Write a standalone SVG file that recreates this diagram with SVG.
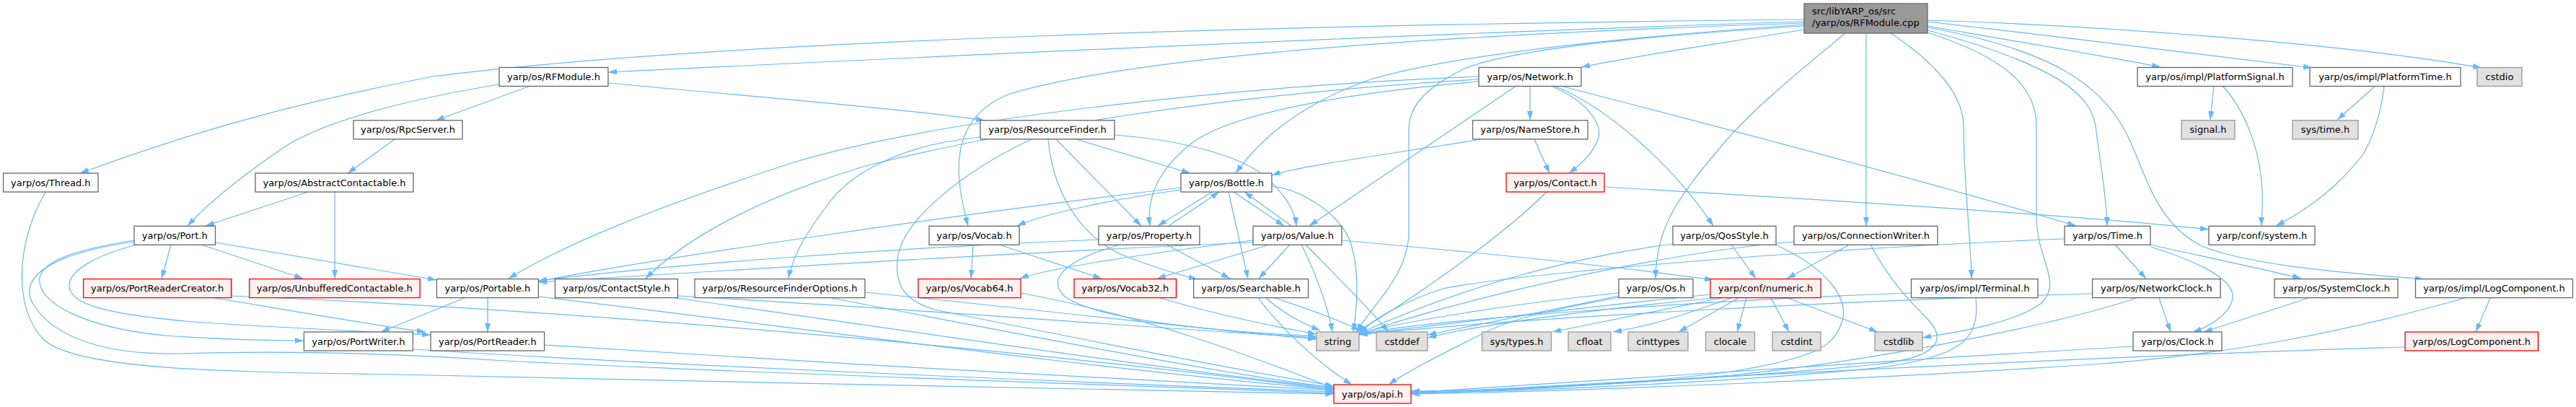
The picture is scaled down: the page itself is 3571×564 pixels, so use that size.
<svg xmlns="http://www.w3.org/2000/svg" width="3571" height="564" viewBox="0 0 3571 564">
<defs>
<marker id="ah" viewBox="0 0 12 8" refX="12" refY="4" markerWidth="12" markerHeight="8" markerUnits="userSpaceOnUse" orient="auto">
<path d="M0,0 L12,4 L0,8 z" fill="#63b8ff"/>
</marker>
<style>
.e path{fill:none;stroke:#63b8ff;stroke-width:1.2;marker-end:url(#ah)}
text{font-family:"DejaVu Sans",Verdana,sans-serif;font-size:13px;fill:#000}
.n text{text-anchor:middle}
.w rect{fill:#ffffff;stroke:#666666;stroke-width:1.3}
.r rect{fill:#fff0f0;stroke:#ff0000;stroke-width:1.3}
.g rect{fill:#e0e0e0;stroke:#999999;stroke-width:1.3}
.root rect{fill:#999999;stroke:#666666;stroke-width:1.3}
</style>
</defs>
<rect width="3571" height="564" fill="#ffffff"/>
<g id="edges" class="e">
<path d="M2501,27 C1800,34 1000,55 600,106 C450,135 300,170 111,240"/>
<path d="M2501,30 C2000,45 1300,78 843,100"/>
<path d="M2501,32 C2100,45 1600,70 1400,130 C1310,165 1325,250 1342,313"/>
<path d="M2501,34 C2200,55 2000,80 1900,110 C1800,145 1745,195 1713,240"/>
<path d="M2501,36 C2200,55 2080,75 2030,95 C1970,125 1953,150 1953,180 L1953,320 C1953,380 1905,420 1880,460"/>
<path d="M2501,41 C2400,58 2280,75 2192,93"/>
<path d="M2558,46 C2480,110 2420,160 2380,210 C2320,280 2296,320 2295,386"/>
<path d="M2587,46 L2587,313"/>
<path d="M2621,46 C2680,85 2722,130 2722,175 C2722,250 2732,330 2733,386"/>
<path d="M2672,45 C2780,80 2823,120 2823,175 L2823,300 C2823,360 2860,390 2830,420 C2790,450 2700,462 2665,468"/>
<path d="M2672,42 C2850,90 2898,130 2905,175 C2912,230 2920,270 2921,313"/>
<path d="M2672,38 C2850,70 2920,120 2955,200 C2980,260 2995,310 3050,340 C3120,370 3280,380 3360,387"/>
<path d="M2672,36 C2800,58 2930,80 2995,93"/>
<path d="M2672,30 C2850,50 3050,75 3205,94"/>
<path d="M2672,28 C2900,35 3250,60 3440,94"/>
<path d="M735,119 L604,167"/>
<path d="M843,115 C1000,130 1250,150 1365,167"/>
<path d="M692,117 C550,140 450,170 400,200 C340,240 290,280 260,313"/>
<path d="M547,193 L482,240"/>
<path d="M427,266 L285,313"/>
<path d="M464,266 L464,386"/>
<path d="M237,339 L224,386"/>
<path d="M279,339 L420,386"/>
<path d="M299,336 L605,388"/>
<path d="M186,333 C110,345 60,360 55,385 C50,420 120,455 230,465 C300,470 380,472 421,472"/>
<path d="M189,339 C130,355 96,375 96,396 C96,420 140,435 268,446 C400,455 520,460 597,464"/>
<path d="M186,335 C80,350 25,380 45,420 C75,470 150,492 250,490 C400,485 550,490 700,500 C1100,520 1600,535 1849,545"/>
<path d="M63,266 C20,340 20,430 60,470 C110,520 400,515 600,520 C1000,530 1600,540 1849,546"/>
<path d="M293,412 C400,430 500,448 590,460"/>
<path d="M320,410 C700,425 1300,470 1849,540"/>
<path d="M646,412 L528,460"/>
<path d="M676,412 L676,460"/>
<path d="M746,411 C1000,440 1500,510 1849,540"/>
<path d="M572,484 C900,505 1500,530 1849,543"/>
<path d="M755,478 C1100,500 1600,530 1849,541"/>
<path d="M939,410 C1300,430 1600,455 1825,468"/>
<path d="M931,412 C1200,450 1600,510 1849,538"/>
<path d="M1199,405 C1450,430 1650,455 1825,470"/>
<path d="M1147,412 C1400,460 1700,520 1849,537"/>
<path d="M1359,190 C1250,200 1180,240 1150,280 C1120,320 1100,350 1093,386"/>
<path d="M1492,193 L1650,240"/>
<path d="M1464,193 L1582,313"/>
<path d="M1453,193 C1460,270 1500,330 1560,355 C1600,370 1630,380 1660,387"/>
<path d="M1545,187 C1650,195 1730,220 1760,250 C1780,270 1795,290 1797,313"/>
<path d="M1430,193 C1350,230 1250,300 1244,360 C1240,400 1260,420 1300,430 C1500,470 1700,510 1849,535"/>
<path d="M1637,263 C1550,275 1450,295 1410,313"/>
<path d="M1637,260 C1300,300 900,360 746,390"/>
<path d="M1680,266 L1605,313"/>
<path d="M1620,313 L1690,266"/>
<path d="M1710,266 L1780,313"/>
<path d="M1790,313 L1725,266"/>
<path d="M1703,266 L1730,386"/>
<path d="M1763,258 C1800,262 1850,290 1870,330 C1885,370 1882,420 1876,460"/>
<path d="M1349,339 L1346,386"/>
<path d="M1385,339 L1527,386"/>
<path d="M1617,339 L1705,386"/>
<path d="M1523,332 C1200,345 900,370 746,389"/>
<path d="M1552,339 C1480,360 1450,385 1475,410 C1520,445 1700,460 1825,466"/>
<path d="M1788,339 L1745,386"/>
<path d="M1737,333 C1600,350 1450,372 1414,386"/>
<path d="M1760,339 L1604,386"/>
<path d="M1737,336 C1400,350 1000,375 746,391"/>
<path d="M1804,339 C1820,370 1840,420 1847,460"/>
<path d="M1810,339 C1850,380 1900,430 1925,460"/>
<path d="M1860,333 C2050,350 2250,370 2375,388"/>
<path d="M1744,413 C1780,460 1830,505 1874,533"/>
<path d="M1755,413 C1780,435 1810,450 1830,458"/>
<path d="M1767,413 C1820,430 1860,445 1885,458"/>
<path d="M2127,193 L2148,240"/>
<path d="M2053,193 C1950,210 1800,230 1763,243"/>
<path d="M2144,266 C2080,330 1950,420 1880,460"/>
<path d="M2224,259 C2500,275 2900,300 3062,318"/>
<path d="M2121,119 L2121,166"/>
<path d="M2150,119 C2200,140 2220,170 2216,190 C2210,210 2195,225 2175,240"/>
<path d="M2102,119 L1815,313"/>
<path d="M2155,119 C2230,150 2320,230 2375,313"/>
<path d="M2163,119 C2400,180 2700,260 2878,313"/>
<path d="M2050,106 C1700,120 1300,165 1100,225 C900,290 780,340 705,386"/>
<path d="M2050,110 C1700,130 1400,180 1200,230 C1050,275 950,330 895,386"/>
<path d="M2050,113 C1850,130 1700,160 1650,200 C1600,240 1590,280 1594,313"/>
<path d="M2400,339 L2434,386"/>
<path d="M2319,338 C2150,360 2000,410 1884,462"/>
<path d="M2461,339 C2530,370 2560,410 2555,440 C2545,480 2520,495 2400,515 C2250,535 2050,542 1956,542"/>
<path d="M2564,339 L2477,386"/>
<path d="M2593,339 C2620,390 2650,420 2670,440 C2700,470 2690,495 2600,505 C2400,525 2100,540 1956,543"/>
<path d="M2487,335 C2300,350 2000,420 1884,464"/>
<path d="M2862,331 C2500,345 2100,380 2000,400 C1940,420 1900,445 1884,462"/>
<path d="M2932,339 L2975,386"/>
<path d="M2981,339 C3050,355 3150,375 3190,386"/>
<path d="M2981,342 C3040,360 3095,385 3095,410 C3095,430 3070,450 3040,460"/>
<path d="M2244,406 C2100,420 1950,445 1884,462"/>
<path d="M2244,410 C2150,430 2050,450 1979,464"/>
<path d="M2244,412 C2150,430 2100,440 2060,460 C2000,490 1950,515 1925,533"/>
<path d="M2371,408 C2200,425 2000,450 1884,463"/>
<path d="M2375,413 C2200,430 2050,450 1979,468"/>
<path d="M2386,413 L2152,460"/>
<path d="M2400,413 C2350,430 2300,450 2236,460"/>
<path d="M2410,413 L2327,460"/>
<path d="M2421,413 L2408,460"/>
<path d="M2455,413 L2480,460"/>
<path d="M2478,413 L2603,460"/>
<path d="M2739,413 C2745,470 2720,495 2600,510 C2400,530 2100,543 1956,544"/>
<path d="M2650,406 C2400,415 2000,440 1884,463"/>
<path d="M2993,413 L3009,460"/>
<path d="M2962,413 C2850,450 2600,500 2400,520 C2200,535 2050,543 1956,545"/>
<path d="M2900,407 C2600,415 2100,440 1884,464"/>
<path d="M3200,413 L3055,460"/>
<path d="M2957,480 C2600,500 2200,530 1956,544"/>
<path d="M3452,413 L3432,460"/>
<path d="M3417,413 C3250,460 3100,490 2900,505 C2600,525 2200,542 1956,546"/>
<path d="M3334,481 C3000,490 2400,520 1956,546"/>
<path d="M3069,119 L3064,166"/>
<path d="M3081,119 C3110,150 3130,200 3135,250 C3138,280 3135,300 3135,313"/>
<path d="M3293,119 L3240,166"/>
<path d="M3305,119 C3300,160 3290,190 3275,215 C3240,260 3200,290 3155,313"/>
<path d="M1415,406 C1600,440 1750,500 1849,538"/>
<path d="M1608,413 C1700,440 1780,455 1825,463"/>
</g>
<g id="node-root" class="root"><rect x="2501" y="5" width="171" height="41"/><text x="2512" y="20">src/libYARP_os/src</text><text x="2512" y="36">/yarp/os/RFModule.cpp</text></g>
<g id="node-rfmodule" class="n w"><rect x="692" y="93.5" width="151" height="26"/><text x="767.5" y="111">yarp/os/RFModule.h</text></g>
<g id="node-network" class="n w"><rect x="2050" y="93.5" width="142" height="26"/><text x="2121" y="111">yarp/os/Network.h</text></g>
<g id="node-platformsignal" class="n w"><rect x="2963" y="93.5" width="215" height="26"/><text x="3070.5" y="111">yarp/os/impl/PlatformSignal.h</text></g>
<g id="node-platformtime" class="n w"><rect x="3202" y="93.5" width="209" height="26"/><text x="3306.5" y="111">yarp/os/impl/PlatformTime.h</text></g>
<g id="node-cstdio" class="n g"><rect x="3434" y="93.5" width="62" height="26"/><text x="3465" y="111">cstdio</text></g>
<g id="node-rpcserver" class="n w"><rect x="490" y="166.8" width="151" height="26"/><text x="565.5" y="184.3">yarp/os/RpcServer.h</text></g>
<g id="node-resourcefinder" class="n w"><rect x="1359" y="166.8" width="186" height="26"/><text x="1452" y="184.3">yarp/os/ResourceFinder.h</text></g>
<g id="node-namestore" class="n w"><rect x="2041.5" y="166.8" width="159.5" height="26"/><text x="2121.2" y="184.3">yarp/os/NameStore.h</text></g>
<g id="node-signal" class="n g"><rect x="3024" y="166.8" width="74" height="26"/><text x="3061" y="184.3">signal.h</text></g>
<g id="node-systime" class="n g"><rect x="3178" y="166.8" width="91" height="26"/><text x="3223.5" y="184.3">sys/time.h</text></g>
<g id="node-thread" class="n w"><rect x="4.6" y="240" width="131.4" height="26"/><text x="70.3" y="257.5">yarp/os/Thread.h</text></g>
<g id="node-abstractcontactable" class="n w"><rect x="354" y="240" width="219" height="26"/><text x="463.5" y="257.5">yarp/os/AbstractContactable.h</text></g>
<g id="node-bottle" class="n w"><rect x="1637" y="240" width="126" height="26"/><text x="1700" y="257.5">yarp/os/Bottle.h</text></g>
<g id="node-contact" class="n r"><rect x="2088" y="240" width="136" height="26"/><text x="2156" y="257.5">yarp/os/Contact.h</text></g>
<g id="node-port" class="n w"><rect x="186" y="313.3" width="112.5" height="26"/><text x="242.2" y="330.8">yarp/os/Port.h</text></g>
<g id="node-vocab" class="n w"><rect x="1288" y="313.3" width="125" height="26"/><text x="1350.5" y="330.8">yarp/os/Vocab.h</text></g>
<g id="node-property" class="n w"><rect x="1523" y="313.3" width="140" height="26"/><text x="1593" y="330.8">yarp/os/Property.h</text></g>
<g id="node-value" class="n w"><rect x="1737" y="313.3" width="123" height="26"/><text x="1798.5" y="330.8">yarp/os/Value.h</text></g>
<g id="node-qosstyle" class="n w"><rect x="2319" y="313.3" width="143" height="26"/><text x="2390.5" y="330.8">yarp/os/QosStyle.h</text></g>
<g id="node-connectionwriter" class="n w"><rect x="2487" y="313.3" width="199" height="26"/><text x="2586.5" y="330.8">yarp/os/ConnectionWriter.h</text></g>
<g id="node-time" class="n w"><rect x="2862" y="313.3" width="119" height="26"/><text x="2921.5" y="330.8">yarp/os/Time.h</text></g>
<g id="node-system" class="n w"><rect x="3062" y="313.3" width="147" height="26"/><text x="3135.5" y="330.8">yarp/conf/system.h</text></g>
<g id="node-portreadercreator" class="n r"><rect x="115.6" y="386.6" width="205" height="26"/><text x="218.1" y="404.1">yarp/os/PortReaderCreator.h</text></g>
<g id="node-unbufferedcontactable" class="n r"><rect x="345.6" y="386.6" width="236.5" height="26"/><text x="463.8" y="404.1">yarp/os/UnbufferedContactable.h</text></g>
<g id="node-portable" class="n w"><rect x="605.4" y="386.6" width="141" height="26"/><text x="675.9" y="404.1">yarp/os/Portable.h</text></g>
<g id="node-contactstyle" class="n w"><rect x="769.5" y="386.6" width="170" height="26"/><text x="854.5" y="404.1">yarp/os/ContactStyle.h</text></g>
<g id="node-resourcefinderoptions" class="n w"><rect x="963" y="386.6" width="236" height="26"/><text x="1081" y="404.1">yarp/os/ResourceFinderOptions.h</text></g>
<g id="node-vocab64" class="n r"><rect x="1273" y="386.6" width="142" height="26"/><text x="1344" y="404.1">yarp/os/Vocab64.h</text></g>
<g id="node-vocab32" class="n r"><rect x="1489" y="386.6" width="141.5" height="26"/><text x="1559.7" y="404.1">yarp/os/Vocab32.h</text></g>
<g id="node-searchable" class="n w"><rect x="1654.6" y="386.6" width="159" height="26"/><text x="1734.1" y="404.1">yarp/os/Searchable.h</text></g>
<g id="node-os" class="n w"><rect x="2244" y="386.6" width="103" height="26"/><text x="2295.5" y="404.1">yarp/os/Os.h</text></g>
<g id="node-numeric" class="n r"><rect x="2371" y="386.6" width="153" height="26"/><text x="2447.5" y="404.1">yarp/conf/numeric.h</text></g>
<g id="node-terminal" class="n w"><rect x="2649.5" y="386.6" width="175.5" height="26"/><text x="2737.2" y="404.1">yarp/os/impl/Terminal.h</text></g>
<g id="node-networkclock" class="n w"><rect x="2900.6" y="386.6" width="177.5" height="26"/><text x="2989.3" y="404.1">yarp/os/NetworkClock.h</text></g>
<g id="node-systemclock" class="n w"><rect x="3153" y="386.6" width="171" height="26"/><text x="3238.5" y="404.1">yarp/os/SystemClock.h</text></g>
<g id="node-impllogcomponent" class="n w"><rect x="3348.5" y="386.6" width="218" height="26"/><text x="3457.5" y="404.1">yarp/os/impl/LogComponent.h</text></g>
<g id="node-portwriter" class="n w"><rect x="421.4" y="460" width="151" height="26"/><text x="496.9" y="477.5">yarp/os/PortWriter.h</text></g>
<g id="node-portreader" class="n w"><rect x="597" y="460" width="157.6" height="26"/><text x="675.8" y="477.5">yarp/os/PortReader.h</text></g>
<g id="node-string" class="n g"><rect x="1825" y="460" width="59" height="26"/><text x="1854.5" y="477.5">string</text></g>
<g id="node-cstddef" class="n g"><rect x="1908" y="460" width="71" height="26"/><text x="1943.5" y="477.5">cstddef</text></g>
<g id="node-systypes" class="n g"><rect x="2054.5" y="460" width="96" height="26"/><text x="2102.5" y="477.5">sys/types.h</text></g>
<g id="node-cfloat" class="n g"><rect x="2174" y="460" width="59" height="26"/><text x="2203.5" y="477.5">cfloat</text></g>
<g id="node-cinttypes" class="n g"><rect x="2257" y="460" width="83" height="26"/><text x="2298.5" y="477.5">cinttypes</text></g>
<g id="node-clocale" class="n g"><rect x="2364.5" y="460" width="68" height="26"/><text x="2398.5" y="477.5">clocale</text></g>
<g id="node-cstdint" class="n g"><rect x="2457" y="460" width="67" height="26"/><text x="2490.5" y="477.5">cstdint</text></g>
<g id="node-cstdlib" class="n g"><rect x="2599" y="460" width="66" height="26"/><text x="2632" y="477.5">cstdlib</text></g>
<g id="node-clock" class="n w"><rect x="2957" y="460" width="123" height="26"/><text x="3018.5" y="477.5">yarp/os/Clock.h</text></g>
<g id="node-logcomponent" class="n r"><rect x="3334" y="460" width="184.5" height="26"/><text x="3426.2" y="477.5">yarp/os/LogComponent.h</text></g>
<g id="node-api" class="n r"><rect x="1849" y="533" width="107" height="26"/><text x="1902.5" y="550.5">yarp/os/api.h</text></g>
</svg>
